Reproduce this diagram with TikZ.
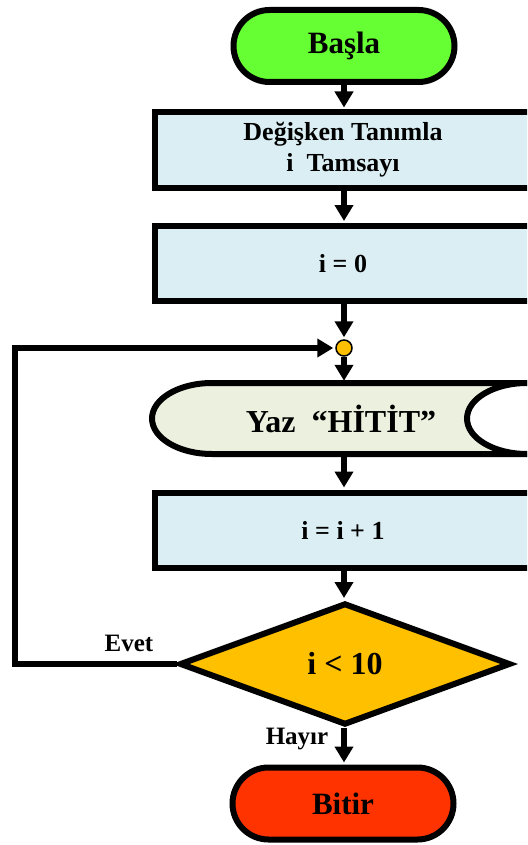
\documentclass[tikz,border=0pt]{standalone}
\usepackage{fontspec}
\setmainfont{Liberation Serif}
\usetikzlibrary{arrows.meta,shapes.geometric,shapes.misc}

\definecolor{startgreen}{HTML}{66FF33}
\definecolor{procblue}{HTML}{DAEEF3}
\definecolor{dispgreen}{HTML}{EBF1DE}
\definecolor{decgold}{HTML}{FFC000}
\definecolor{endred}{HTML}{FF3300}

\tikzset{
  term/.style={rounded rectangle, draw, line width=6pt, minimum width=221pt,
    minimum height=72pt, inner sep=0pt, font=\fontsize{31}{35}\selectfont\bfseries},
  procbox/.style={rectangle, draw, line width=6pt, fill=procblue, minimum width=376pt,
    minimum height=75pt, inner sep=0pt, align=center,
    font=\fontsize{26}{31}\selectfont\bfseries},
  decbox/.style={diamond, draw, line width=6pt, fill=decgold, aspect=2.8,
    minimum width=331pt, minimum height=122pt, inner sep=0pt,
    font=\fontsize{32}{36}\selectfont\bfseries},
  flowarrow/.style={line width=6pt, -{Triangle[width=18pt,length=16pt]}, shorten >=2pt},
  edgelabel/.style={font=\fontsize{25}{29}\selectfont\bfseries, inner sep=0pt}
}

\begin{document}
\begin{tikzpicture}[x=1pt,y=-1pt]
\useasboundingbox (0,0) rectangle (527,845);
\clip (0,0) rectangle (527,845);

% start / end terminals
\node[term, fill=startgreen] (start) at (344,46) {Başla};
\node[term, fill=endred] (stop) at (343,803.5) {Bitir};

% process boxes
\node[procbox] (decl) at (343,150) {Değişken Tanımla\\i\ \ Tamsayı};
\node[procbox] (init) at (343,263.5) {i = 0};

% junction where the loop returns
\node[circle, draw, line width=1.5pt, fill=decgold, minimum size=16pt, inner sep=0pt] (jn) at (344,348) {};

% display (output) shape: rounded left end, open elliptical right end
\draw[line width=6pt, fill=dispgreen]
  (540,383) -- (212,383)
  arc[start angle=270, end angle=90, x radius=60, y radius=35.5]
  -- (540,454) -- cycle;
\draw[line width=6pt, fill=white] (527,418.5) ellipse[x radius=60, y radius=35.5];
\node[minimum width=376pt, minimum height=71pt, inner sep=0pt] (disp) at (343,418.5) {};
\node[font=\fontsize{32}{36}\selectfont\bfseries, inner sep=0pt] (disptext) at (341,418.5) {Yaz\ \ “HİTİT”};

\node[procbox] (incr) at (343,530) {i = i + 1};

% loop condition
\node[decbox] (cond) at (345,664) {i < 10};

% connectors
\draw[flowarrow] (start.south -| jn) -- (decl.north -| jn);
\draw[flowarrow] (decl.south -| jn) -- (init.north -| jn);
\draw[flowarrow] (init.south -| jn) -- (jn);
\draw[flowarrow] (jn) -- (disp.north -| jn);
\draw[flowarrow] (disp.south -| jn) -- (incr.north -| jn);
\draw[flowarrow] (incr.south -| jn) -- (cond.north -| jn);
\draw[flowarrow] (cond.south -| jn) -- (stop.north -| jn);

% back edge of the loop
\coordinate (lx) at (14.5,0);
\draw[flowarrow] (cond.west) -- (cond.west -| lx) -- (jn -| lx) -- (jn.west);

% edge labels
\node[edgelabel] (yes) at (129,643.5) {Evet};
\node[edgelabel] (no) at (297,739) {Hayır};
\end{tikzpicture}
\end{document}
